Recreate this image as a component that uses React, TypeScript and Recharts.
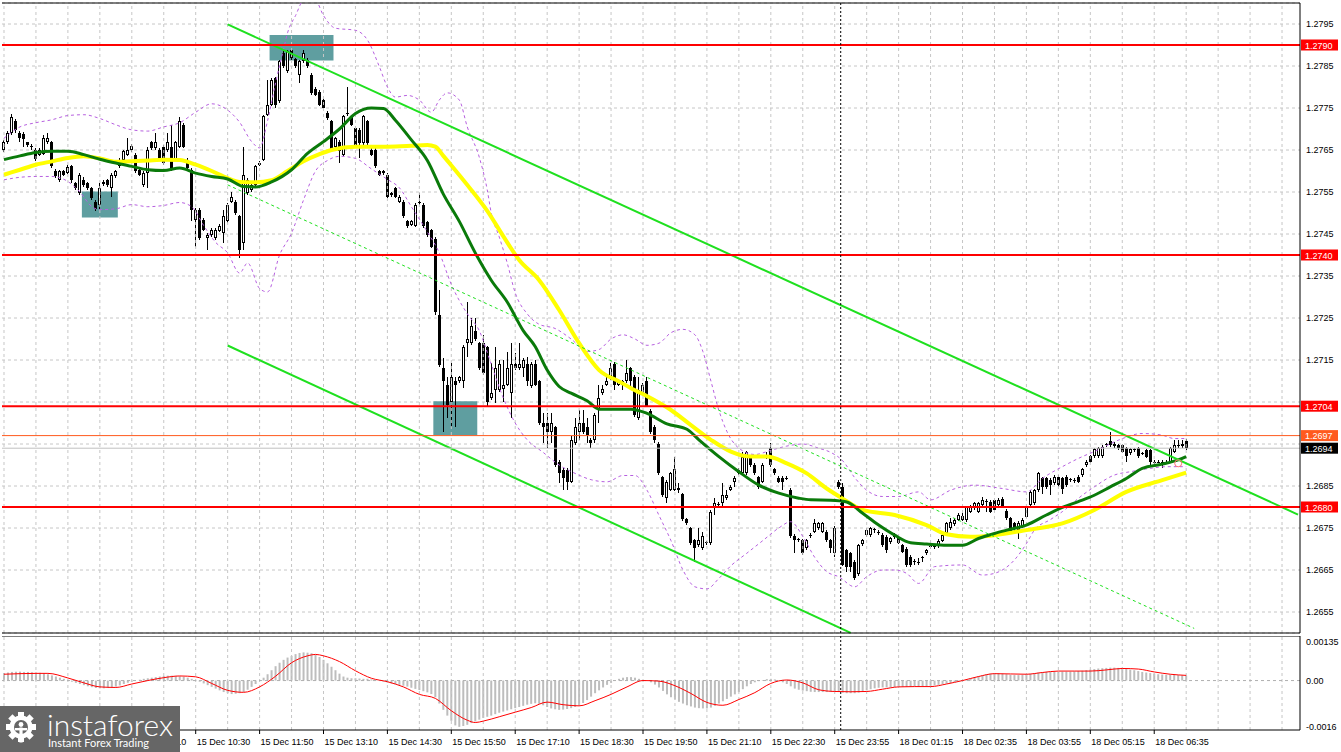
import React from 'react';
import {
  ComposedChart, Bar, Line, XAxis, YAxis, CartesianGrid,
  ReferenceLine, ReferenceArea, ReferenceDot,
} from 'recharts';

const W = 1341;
const FONT = '"Liberation Sans", Arial, sans-serif';

// candles and indicator curves are kept in pips above 1.2600
const BASE = 1.26;
// 5-minute slots across the plot, the right-most ones stay empty (chart shift)
const SLOTS = 325;

// [open, high, low, close]
const candles: number[][] = [
  [165, 167.5, 164.5, 167], [167, 169.5, 166.5, 169], [169, 173.5, 168.5, 172.8], [171.8, 172.5, 169, 169.8], [169, 169.5, 167, 167.8],
  [168.9, 169.2, 165.8, 167.6], [166.8, 167, 165.8, 166.2], [166, 166.5, 165, 165.8], [165, 165.5, 162.5, 162.8], [163.9, 165.5, 163.5, 165],
  [164, 168.5, 163.8, 167.8], [166.8, 169, 166.5, 167.8], [166.8, 167.2, 160.8, 161.1], [159.9, 160.5, 158.4, 158.7], [157.9, 160.3, 157.5, 159.9],
  [159.9, 160.3, 158.8, 159.1], [159.5, 161.5, 159.2, 161], [161.1, 161.4, 157.1, 157.9], [157.1, 157.5, 155.5, 155.9], [154.7, 159.5, 154.3, 159.1],
  [157.9, 158.5, 156.3, 156.7], [157.1, 157.4, 155.5, 155.9], [155.9, 156.2, 153.2, 153.5], [152.7, 153.2, 150.5, 150.9], [151.9, 157.1, 150.9, 155.9],
  [156.9, 157.8, 156.5, 157.4], [157.9, 158.2, 156.3, 156.7], [155.9, 159.5, 153.9, 159.1], [158.7, 160.3, 158.4, 159.9], [161.1, 163, 160.8, 162.7],
  [162.7, 165, 162.4, 164.7], [163.9, 167.8, 163.5, 165], [164.9, 166.4, 164.5, 166], [163.9, 164.3, 159.5, 159.9], [160.3, 160.6, 158.8, 159.1],
  [156.7, 159.9, 156.3, 159.5], [159.5, 165.8, 155.9, 165], [166.8, 167.2, 165, 165.4], [165.4, 169, 165, 166.8], [165, 165.4, 162.3, 162.7],
  [165.8, 166.2, 161.5, 161.9], [165, 169, 164.6, 167], [165.8, 171, 160, 160.3], [162.7, 167.2, 162.3, 166.8], [165.8, 172.8, 165.4, 171.8],
  [171, 171.4, 165.4, 165.8], [162.7, 163.1, 160.3, 160.7], [160.3, 160.7, 148, 150.8], [148.4, 151.2, 142, 150.8], [150.8, 151.2, 143.6, 144],
  [148.4, 148.8, 145.6, 146], [144, 145.2, 141.2, 144.8], [144.8, 146.4, 144.4, 146], [144, 146.4, 143.6, 146], [145.8, 147.4, 145.4, 147],
  [145.2, 150.8, 142.8, 149.2], [148, 152.3, 147.6, 151.9], [152.7, 155.1, 152.3, 153.9], [152.7, 153.1, 149.6, 150], [149.2, 149.6, 139.3, 141.2],
  [142.8, 165.8, 141.2, 159.1], [154.7, 158.3, 154.3, 157.9], [155.5, 157.1, 155.1, 156.7], [156.7, 161.5, 156.3, 161.1], [161.5, 162.4, 161.1, 162],
  [162.7, 173.4, 162.3, 173], [173.4, 181.7, 173, 175.8], [175.8, 182.1, 175.4, 181.7], [182.1, 182.5, 175, 175.8], [176.6, 186.5, 176.2, 186.1],
  [188.1, 188.5, 184.5, 184.9], [183.7, 188.9, 183.3, 188.5], [188.9, 189.3, 186.5, 186.9], [186.6, 187, 184.5, 184.9], [182.9, 186.5, 180.9, 186.1],
  [186.1, 188.9, 185.7, 188.1], [186.5, 186.9, 184.5, 184.9], [182.9, 183.3, 178.1, 178.5], [179.6, 180, 177.8, 178.2], [178.9, 179.3, 175.4, 175.8],
  [177, 177.4, 174.6, 175], [173.8, 174.2, 172.2, 172.6], [171.8, 172.2, 164.6, 165], [165.8, 168.2, 165.4, 167.8], [167, 167.4, 161.9, 164.7],
  [163.9, 173.4, 163.5, 173], [173.8, 180.1, 173.2, 173.6], [172.9, 173.2, 170.6, 171], [170.2, 170.6, 165.4, 165.8], [169.8, 170.2, 163.1, 166.6],
  [166.6, 173.4, 166.2, 173], [171.8, 172.2, 166.2, 166.6], [165, 165.4, 163.5, 163.9], [165, 165.4, 160.7, 161.1], [159.9, 160.3, 158.7, 159.1],
  [159.9, 160.3, 159.1, 159.5], [159.1, 159.5, 153.5, 153.9], [154.7, 155.1, 153.9, 154.3], [155.9, 156.3, 153.5, 153.9], [152.7, 154.3, 152.3, 153.9],
  [152.7, 153.1, 148.8, 149.2], [148, 148.4, 146.4, 146.8], [147.2, 148.4, 146.8, 148], [147, 152.3, 146.6, 151.9], [152.7, 154.7, 152, 152.5],
  [151.9, 152.3, 146.4, 146.8], [147.9, 148.2, 144.4, 144.7], [145.9, 146.3, 141.6, 142], [143.9, 144.3, 125.7, 126.5], [125.7, 131.7, 113.4, 113.8],
  [113, 115.4, 97.9, 109.9], [109.1, 111, 101.1, 104.3], [105.1, 114.2, 99.1, 111], [109.9, 111, 99.1, 109.1], [109.9, 111.3, 109.5, 110.9],
  [109.9, 118.6, 108.3, 118.2], [119, 128.9, 115.8, 119.9], [119, 124.9, 118.6, 123.1], [121.9, 124.9, 119.5, 119.9], [119, 119.4, 112.6, 113],
  [119, 121, 111.4, 111.8], [118, 118.4, 103.9, 105.1], [105.9, 114.2, 105.5, 107.1], [107.9, 118.2, 104.7, 113], [107.9, 115, 107.5, 114.1],
  [108, 115, 105.1, 109.1], [109.1, 117, 108.7, 113], [107.1, 119, 101.1, 114.1], [114.1, 116.6, 112.6, 113], [113, 119, 112.6, 114.1],
  [113, 115.4, 111, 115], [114.1, 115.8, 108.7, 109.9], [108.8, 114.5, 108.4, 114.1], [114.1, 115, 108.7, 109.1], [109.9, 110.3, 99.5, 99.9],
  [99.9, 102.3, 95.2, 99.1], [99.9, 102.3, 94, 97.9], [97.9, 102.3, 95.2, 99.9], [99, 99.4, 89.6, 90], [90.8, 91.2, 85.6, 88],
  [88.8, 89.2, 84.1, 86.8], [88.8, 89.2, 84.1, 86], [86, 96.8, 85.6, 96], [95.2, 101.1, 94.8, 99], [97.9, 103.1, 96, 99.9],
  [99.9, 103.1, 97.5, 97.9], [99, 101.1, 95.2, 97.2], [96, 96.4, 94, 95.2], [96, 102.3, 95.2, 101.9], [103.1, 109.1, 99.9, 105.9],
  [107.1, 109.1, 106.7, 108], [109.1, 111, 108.7, 109.9], [110.6, 114.2, 110.2, 113], [114.1, 114.5, 107.9, 109.1], [109.1, 110.3, 108.7, 109.9],
  [109.9, 110.3, 107.9, 109.1], [109.9, 115, 109.5, 111.8], [113, 113.4, 107.9, 110.1], [111, 111.4, 101.5, 101.9], [101.1, 111, 100.7, 107.9],
  [107.1, 109.5, 106.7, 109.1], [110.1, 111, 103.7, 104.1], [102.9, 103.3, 97.5, 97.9], [99.1, 99.5, 95.2, 96], [95, 95.4, 87.6, 88],
  [87.1, 87.5, 82.5, 82.9], [82.1, 86.4, 80.9, 86], [84.1, 88.4, 83.7, 88], [84.1, 91.8, 83.7, 89], [84.1, 85.6, 83.3, 84.5],
  [83, 83.4, 76.7, 77.1], [77.1, 77.5, 75.7, 76.1], [74.9, 75.3, 71, 71.4], [72.1, 72.5, 67, 70.2], [70.9, 74.9, 70.5, 72.1],
  [70.2, 74.1, 69.8, 73.1], [71.4, 72, 71, 71.6], [71.4, 79.3, 71, 78.9], [80.1, 82.1, 78.1, 80.9], [80.5, 81.1, 80.1, 80.7],
  [80.9, 85.6, 80.1, 82.9], [82.1, 84.1, 81.7, 82.9], [84.1, 85.2, 83.7, 84.8], [86, 87.4, 84.8, 87], [88, 89.2, 87.6, 88.8],
  [88, 93.2, 87.6, 91.8], [88, 93.4, 87.6, 93], [92, 92.4, 89.6, 90], [90, 90.4, 87.6, 88], [87.1, 87.5, 84.4, 84.8],
  [86, 90.4, 85.6, 90], [91.8, 93.2, 91.4, 92], [94, 95.2, 89.6, 90], [89, 89.4, 87.6, 88], [87, 87.4, 85.6, 86],
  [87, 87.4, 84.1, 86], [87, 87.4, 86.4, 86.8], [84.1, 84.5, 72.7, 73.1], [73.1, 73.5, 69, 72.1], [72.1, 72.7, 71.7, 72.3],
  [72.1, 72.5, 68.6, 69], [70.2, 72.5, 69.8, 72.1], [73.1, 73.7, 72.7, 73.3], [74.1, 77.1, 73.7, 76.1], [74.9, 76.5, 74.5, 76.1],
  [74.1, 76.5, 73.7, 76.1], [74.1, 74.5, 71.7, 72.1], [72.1, 72.5, 69, 70.2], [69.1, 75.5, 68.2, 75], [86, 86.4, 84.4, 84.8],
  [84.8, 85.6, 66, 66.2], [69.7, 70, 64.5, 65.8], [69, 69.4, 64.6, 65.8], [67, 67.4, 62.6, 63], [64, 71.3, 63.6, 70.9],
  [71.2, 72.5, 70.8, 72.1], [73.3, 74.9, 72.9, 74.5], [73.3, 75.3, 72.9, 74.9], [74.5, 75.1, 73.7, 74.7], [74.1, 74.5, 73.3, 73.7],
  [73.3, 73.7, 70.5, 70.9], [72.9, 73.3, 69, 69.7], [71.7, 72.9, 71.3, 72.5], [72.9, 73.7, 72.5, 73.1], [72.5, 72.9, 71.1, 71.5],
  [70.9, 71.3, 69, 69.4], [70.1, 70.5, 65.8, 66.2], [68.2, 68.6, 65.8, 66.2], [67, 67.6, 66.2, 67.2], [67, 67.8, 66.2, 66.8],
  [67.8, 68.4, 67, 68], [69, 70.1, 68.6, 69.7], [70.5, 71.2, 70.1, 70.7], [70.7, 71.2, 70, 70.5], [70.7, 72.4, 70.3, 72],
  [72, 73.7, 71.6, 73.3], [73.7, 76.5, 73.3, 76.1], [74.9, 77.3, 74.5, 76.5], [75.9, 77.4, 75.5, 77], [77, 78.5, 76.6, 78.1],
  [77, 78.5, 76.6, 77.8], [76.9, 80.3, 76.5, 79.9], [78.9, 80.5, 78.5, 80.1], [79.7, 81.3, 79.3, 80.9], [78.9, 81.3, 78.5, 80.9],
  [80.5, 82.5, 80.1, 81.7], [81.5, 82, 78.9, 81.3], [81.3, 81.7, 78.5, 78.9], [81.7, 82.1, 78.9, 79.3], [80.5, 82.1, 80.1, 81.7],
  [82, 82.4, 79.7, 80.1], [79.1, 79.5, 76.9, 77.3], [77.3, 77.7, 73.7, 74.1], [76.1, 76.5, 73.7, 74.9], [74.5, 76.7, 72.5, 76.3],
  [75.5, 77.4, 75.1, 77], [77.7, 80.3, 77.3, 79.9], [80.5, 84, 80.1, 83.6], [80.9, 84.4, 80.5, 84], [84, 88.4, 83.6, 88],
  [86.8, 87.2, 83.1, 84.8], [86.8, 87.2, 84.4, 84.8], [86.4, 86.8, 82.8, 85.2], [85.6, 87.6, 85.2, 87.2], [87.2, 87.6, 84.8, 85.2],
  [86.8, 87.2, 83.1, 84.4], [87.2, 87.6, 84.8, 85.2], [86.4, 87, 86, 86.6], [86.4, 87, 85.6, 86.2], [87.2, 87.6, 85.6, 86],
  [87.6, 89.4, 87.2, 89], [90, 91.2, 89.6, 90.8], [92.1, 92.5, 90.4, 90.8], [92.1, 94.1, 91.7, 93.7], [92.1, 94.4, 91.7, 94],
  [92.1, 94.8, 91.7, 94.4], [94.7, 95.3, 94.3, 94.9], [95.8, 97.9, 94.3, 94.7], [95, 95.4, 94.1, 94.5], [94.7, 95.1, 93.6, 94],
  [94.7, 95.1, 92.8, 93.2], [94, 94.4, 90.8, 92.1], [92.8, 94.1, 92.4, 93.7], [93.7, 94.1, 93.2, 93.5], [94, 94.4, 91.7, 92.1],
  [92.8, 93.2, 92.4, 92.6], [93.5, 93.9, 91.6, 92], [93.5, 93.9, 90, 90.8], [90.8, 91.2, 90, 90.4], [90.6, 91.2, 90.4, 90.8],
  [90.8, 91.2, 89.2, 90], [90.8, 91.2, 90.4, 90.6], [90.8, 94.4, 90.4, 94], [93.2, 95.9, 92.8, 94.7], [94.7, 95.9, 94.1, 94.5],
  [94.5, 95.9, 94.1, 95.1], [95.8, 96.2, 93.6, 94],
];

// moving averages and the dashed bands, read at [slot, pips]
const maFast = [
  [0, 162.7], [4, 163.6], [8, 164.4], [12, 164.7], [16, 164.7], [20, 163.9], [24, 162.8], [28, 161.9], [32, 161.1], [36, 160.3],
  [40, 160.1], [44, 160.7], [48, 159.5], [52, 158.7], [56, 158.1], [60, 156.3], [63, 156.2], [67, 157.4], [72, 160.3], [76, 164.2],
  [80, 167], [84, 170], [88, 173.7], [92, 175], [95, 174.9], [98, 172.1], [102, 167.4], [106, 162.5], [110, 154.5], [114, 148],
  [118, 140.5], [122, 134], [126, 128.8], [130, 122], [133, 118.2], [136, 112.6], [139, 108.7], [142, 107.1], [146, 105.3], [149, 103.3],
  [154, 103.3], [157, 103.3], [161, 102.3], [166, 99.8], [171, 98.5], [174, 96], [179, 92], [184, 88.4], [189, 85.2], [194, 83.3],
  [199, 82.1], [202, 81.7], [207, 81.6], [211, 81.2], [215, 78.5], [219, 75.7], [223, 73.3], [227, 71.5], [231, 71.2], [236, 70.9],
  [240, 70.9], [244, 72.5], [248, 73.7], [252, 74.7], [256, 75.7], [261, 78.1], [265, 79.9], [269, 81.3], [273, 82.8], [277, 84.8],
  [281, 86.8], [285, 89.2], [290, 90.2], [294, 91.2], [296, 92],
];
const maSlow = [
  [0, 159.1], [4, 160.3], [8, 161.5], [12, 162.3], [16, 163.1], [20, 163.5], [24, 163], [28, 162.2], [32, 162.3], [36, 162.5],
  [40, 162.7], [44, 162.6], [48, 161.5], [52, 160], [56, 158.3], [59, 157.4], [63, 157.3], [67, 157.8], [71, 160], [75, 162.3],
  [79, 164], [82, 165], [88, 165.8], [96, 165.8], [102, 166], [106, 166.2], [108, 165.8], [110, 163.6], [113, 160.2], [117, 155.5],
  [121, 150.5], [125, 144.5], [129, 138.8], [134, 134], [139, 126.9], [144, 119], [149, 112.6], [154, 109.9], [157, 108.3], [162, 105.9],
  [167, 103.1], [172, 99.5], [177, 96], [182, 93.2], [187, 92], [191, 92], [196, 90.4], [201, 88], [206, 84.4], [210, 82],
  [215, 79.3], [223, 78.1], [231, 75.7], [236, 73.5], [242, 72.9], [248, 73.3], [256, 74.5], [265, 76.1], [273, 79.3], [281, 83.6],
  [290, 86.4], [296, 88.2],
];
const bandUpper = [
  [0, 167.8], [4, 170.5], [8, 171.5], [12, 172.2], [16, 173.2], [20, 173.4], [24, 172.5], [28, 171], [32, 169.8], [36, 169.5],
  [40, 170.5], [44, 171.5], [48, 174], [52, 176], [56, 174.5], [59, 171.6], [62, 167], [64, 165.5], [66, 172], [68, 181],
  [70, 189], [71, 192.9], [73, 197], [75, 200.5], [78, 200.5], [80, 197], [83, 194], [88, 193.5], [91, 191.2], [94, 184.8],
  [96, 180], [98, 177.6], [101, 178], [104, 176.9], [107, 174], [109, 176.9], [111, 178.6], [114, 176.9], [116, 170.5], [119, 163.3],
  [121, 155.5], [122, 150], [124, 144.3], [126, 138.1], [128, 131], [131, 126], [134, 123.5], [138, 122.5], [142, 120], [146, 117],
  [149, 117.5], [152, 120], [155, 121], [158, 120], [161, 118.5], [164, 119], [167, 121.5], [170, 122.3], [173, 121], [175, 117],
  [177, 110], [179, 103], [181, 98], [184, 94], [188, 92.5], [192, 93.5], [196, 94.5], [200, 95], [204, 94], [207, 93],
  [210, 91], [213, 87], [216, 84], [220, 82.5], [224, 82.5], [229, 83.6], [232, 81.7], [237, 84], [243, 85.2], [250, 84.4],
  [256, 83.6], [260, 86.8], [265, 89.6], [270, 92], [273, 93.2], [279, 95.9], [285, 97.5], [290, 97.1], [293, 96.3], [296, 96.3],
];
const bandLower = [
  [0, 157.9], [4, 158.5], [8, 158.7], [12, 158.7], [16, 157.5], [19, 155], [22, 151.5], [24, 150.8], [28, 151], [32, 152],
  [36, 151.5], [40, 151.8], [44, 152.5], [47, 151.5], [50, 147], [53, 143], [56, 140.5], [59, 135.7], [61, 138.1], [64, 132],
  [66, 131.2], [69, 140], [72, 145.2], [75, 153.1], [78, 160], [81, 162.5], [84, 163.5], [88, 163], [92, 160.5], [96, 158],
  [99, 156], [102, 151.5], [106, 145.5], [109, 140.5], [112, 133], [116, 126], [119, 122], [122, 114], [125, 106], [128, 100],
  [131, 96], [135, 93], [139, 90], [143, 88], [147, 86.5], [151, 86], [155, 87.5], [158, 87.5], [161, 84], [164, 78],
  [167, 72], [170, 65], [173, 61], [176, 60.5], [179, 63], [182, 66], [186, 69], [190, 72], [194, 75], [197, 76.5],
  [200, 73], [203, 68], [206, 64.6], [209, 63.4], [213, 61], [216, 63.4], [220, 65], [223, 65], [226, 64.2], [229, 61.8],
  [233, 65.8], [240, 66.2], [245, 63.8], [248, 64.2], [253, 67.4], [256, 71.3], [258, 74.5], [262, 77], [265, 78.9], [270, 82.8],
  [273, 84.8], [278, 87.6], [282, 88.4], [287, 89.2], [291, 89.6], [296, 89.6],
];

// MACD main value per bar, in units of 0.00001
const macdMain = [
  26, 28, 30, 31, 31, 30, 30, 29, 28, 27, 25, 22, 18, 14, 10, 6,
  0, -4, -8, -12, -16, -20, -23, -26, -27, -27, -26, -24, -21, -17, -12,
  -8, -4, 0, 3, 6, 8, 10, 12, 14, 16, 17, 17, 16, 15, 13, 10, 6, 2,
  -4, -10, -16, -22, -28, -34, -40, -44, -47, -46, -44, -40, -32, -22, -12,
  0, 10, 22, 36, 50, 62, 72, 80, 86, 92, 96, 98, 97, 95, 90, 82, 72, 60, 48, 36,
  24, 14, 10, 8, 8, 7, 6, 6, 4, 2, 0,
  -4, -7, -10, -13, -15, -18, -21, -25, -29, -33, -37, -41, -47, -58, -80, -102, -122, -140, -156, -161,
  -158, -154, -148, -142, -136, -130, -126, -122, -117, -112, -108, -104, -100, -96, -92, -88, -84, -81, -79, -81,
  -86, -92, -97, -100, -102, -101, -99, -96, -92, -86, -78, -68, -56, -44, -34, -24, -15, -8, 0,
  6, 10, 12, 12, 10, 6, 2, 0, -6, -14, -24, -36, -48, -58, -66, -74, -80, -86,
  -90, -94, -96, -97, -97, -94, -88, -80, -72, -64, -56, -48, -40, -30, -20, -12, -6, -2, 2, 5,
  6, 4, 0, -6, -12, -20, -28, -32, -35, -37, -39, -40, -40, -40, -40, -40, -40, -39,
  -42, -44, -44, -44, -42, -38, -34, -30, -27, -25, -24, -24, -24, -23, -22, -22, -22, -22, -21, -21,
  -20, -19, -18, -17, -15, -13, -11, -9, -6, -3, 0, 4, 8, 12, 16, 19, 22, 24, 26, 25,
  24, 22, 20, 19, 19, 20, 22, 24, 26, 28, 29, 30, 30, 30, 30, 31, 31, 31, 32, 33,
  34, 36, 38, 40, 42, 43, 44, 45, 45, 44, 42, 40, 38, 36, 33, 30, 28, 26, 24, 22,
  21, 20, 20, 20, 19, 18, 17,
];
// MACD signal line, [slot, 0.00001]
const macdSignal = [
  [0, 22], [4, 24], [8, 25], [11, 25], [16, 9], [20, -8], [24, -22], [28, -24], [32, -12], [36, 0],
  [40, 10], [44, 16], [48, 13], [52, -10], [56, -34], [60, -41], [64, -22], [68, 15], [72, 62], [76, 86],
  [78, 91], [80, 86], [84, 66], [88, 34], [92, 8], [96, -4], [100, -22], [104, -48], [108, -62], [112, -105],
  [116, -138], [118, -146], [120, -141], [124, -126], [128, -110], [132, -94], [136, -75], [140, -84], [144, -88], [148, -70],
  [152, -48], [156, -22], [160, 0], [164, -2], [168, -18], [172, -45], [176, -76], [180, -86], [184, -66], [188, -42],
  [192, -10], [196, 2], [200, -8], [204, -32], [208, -38], [212, -39], [216, -38], [220, -30], [224, -22], [228, -21],
  [232, -21], [236, -12], [240, 0], [244, 14], [248, 24], [252, 23], [256, 22], [260, 28], [264, 33], [268, 33],
  [272, 33], [276, 37], [280, 42], [284, 40], [288, 30], [292, 22], [296, 18],
];

// time axis labels that show beside the logo
const timeLabels: [number, string][] = [
  [32, '15 Dec 09:10'], [48, '15 Dec 10:30'], [64, '15 Dec 11:50'],
  [80, '15 Dec 13:10'], [96, '15 Dec 14:30'], [112, '15 Dec 15:50'], [128, '15 Dec 17:10'], [144, '15 Dec 18:30'],
  [160, '15 Dec 19:50'], [176, '15 Dec 21:10'], [192, '15 Dec 22:30'], [208, '15 Dec 23:55'], [224, '18 Dec 01:15'],
  [240, '18 Dec 02:35'], [256, '18 Dec 03:55'], [272, '18 Dec 05:15'], [288, '18 Dec 06:35'],
];
const priceTicks = [1.2655, 1.2665, 1.2675, 1.2685, 1.2695, 1.2705, 1.2715, 1.2725, 1.2735, 1.2745, 1.2755, 1.2765, 1.2775, 1.2785, 1.2795];
const hiddenTicks = [1.2705, 1.2695];
const redLevels = [1.279, 1.274, 1.2704, 1.268];
const askLevel = 1.2697;
const bidLevel = 1.2694;
const macdTicks = [0.00135, 0, -0.0016];

// channel: [slot, pips] -> [slot, pips]
const channelUpper = [[56, 194.9], [324, 78.2]];
const channelLower = [[56, 118.45], [212, 50.05]];
const channelMid = [[56, 156.7], [298, 51.1]];
// highlighted zones: [slot from, slot to, pips top, pips bottom]
const zones = [[67, 82, 192.4, 186.3], [20, 28, 155.1, 148.9], [108, 118, 105.2, 97.1]];
const gridSlots = Array.from({ length: 41 }, (_, k) => k * 8);
const daySplit = 209;

const toPrice = (p: number) => +(BASE + p / 10000).toFixed(6);
const asMap = (pts: number[][]) => new Map(pts.map(([i, v]) => [i, v]));
const fastMap = asMap(maFast);
const slowMap = asMap(maSlow);
const upMap = asMap(bandUpper);
const loMap = asMap(bandLower);
const sigMap = asMap(macdSignal);
const pick = (m: Map<number, number>, i: number) => (m.has(i) ? toPrice(m.get(i) as number) : null);

const rows = Array.from({ length: SLOTS }, (_, i) => {
  const k = candles[i];
  return {
    i,
    range: k ? [toPrice(k[2]), toPrice(k[1])] : null,
    o: k ? toPrice(k[0]) : null,
    h: k ? toPrice(k[1]) : null,
    l: k ? toPrice(k[2]) : null,
    c: k ? toPrice(k[3]) : null,
    fast: pick(fastMap, i),
    slow: pick(slowMap, i),
    up: pick(upMap, i),
    lo: pick(loMap, i),
    hist: i < macdMain.length ? macdMain[i] / 1e5 : null,
    sig: sigMap.has(i) ? (sigMap.get(i) as number) / 1e5 : null,
  };
});

const CandleShape = (props: any) => {
  const { x, y, width, height, payload } = props;
  if (!payload || payload.o == null) return <g />;
  const { o, h, l, c } = payload;
  const cx = Math.floor(x + width / 2);
  const span = h - l;
  const toY = (v: number) => (span > 0 ? y + ((h - v) / span) * height : y);
  const top = Math.round(toY(Math.max(o, c)));
  const bot = Math.round(toY(Math.min(o, c)));
  const bull = c >= o;
  const bodyH = bot - top;
  return (
    <g shapeRendering="crispEdges">
      <line x1={cx + 0.5} x2={cx + 0.5} y1={y} y2={y + height} stroke="#000" />
      {bodyH < 2 ? (
        <line x1={cx - 1} x2={cx + 2} y1={top + 0.5} y2={top + 0.5} stroke="#000" />
      ) : bull ? (
        <rect x={cx - 0.5} y={top + 0.5} width={2} height={bodyH - 1} fill="#fff" stroke="#000" />
      ) : (
        <rect x={cx - 1} y={top} width={3} height={bodyH} fill="#000" />
      )}
    </g>
  );
};

const PriceTick = (p: any) => {
  const v = p.payload.value;
  if (hiddenTicks.some((t) => Math.abs(t - v) < 1e-7)) return <g />;
  return (
    <text x={p.x} y={p.y + 3} fontSize={9} fontFamily={FONT} fill="#000">
      {v.toFixed(4)}
    </text>
  );
};

const MacdTick = (p: any) => {
  const v = p.payload.value;
  const s = v === 0 ? '0.00' : v > 0 ? '0.00135' : '-0.0016';
  return (
    <text x={p.x} y={p.y + 3} fontSize={9} fontFamily={FONT} fill="#000">
      {s}
    </text>
  );
};

const labelOf = new Map(timeLabels);
const TimeTick = (p: any) => (
  <text x={p.x + 1} y={p.y + 8.5} fontSize={9} fontFamily={FONT} fill="#000">
    {labelOf.get(p.payload.value)}
  </text>
);

const priceTag = (bg: string, text: string) => (props: any) => {
  const vb = props.viewBox;
  const x0 = vb.x + vb.width + 1;
  return (
    <g>
      <rect x={x0} y={vb.y - 5.5} width={37} height={11} fill={bg} />
      <text x={x0 + 4} y={vb.y + 3.5} fontSize={9} fontFamily={FONT} fill="#fff">
        {text}
      </text>
    </g>
  );
};

const seg = (s: number[][]) => s.map(([i, p]) => ({ x: i, y: toPrice(p) }));

const GREEN = '#1fe01f';
const GRID = '#c6c6c6';

const Logo = () => (
  <svg width={180} height={46} style={{ position: 'absolute', left: 0, top: 706 }}>
    <rect width={180} height={46} fill="#666666" />
    <g transform="translate(21,21)" fill="#fff">
      {Array.from({ length: 8 }, (_, k) => (
        <rect key={k} x={-3} y={-15} width={6} height={6} transform={`rotate(${k * 45})`} />
      ))}
      <circle r={11.5} />
      <circle r={7} fill="#666666" />
      <circle cx={0} cy={-2.5} r={2.4} />
      <rect x={-1.6} y={0.5} width={3.2} height={15} />
      <rect x={-6} y={1} width={12} height={2.4} />
    </g>
    <text x={47} y={30} fontSize={30} fontFamily="Lato, 'Open Sans', sans-serif" fontWeight={300} fill="#fff" textLength={126} lengthAdjust="spacingAndGlyphs">
      instaforex
    </text>
    <text x={48} y={41} fontSize={11.5} fontFamily="Lato, 'Open Sans', sans-serif" fill="#fff" textLength={101} lengthAdjust="spacingAndGlyphs">
      Instant Forex Trading
    </text>
  </svg>
);

export default function App() {
  return (
    <div style={{ position: 'absolute', left: 0, top: 0, width: W, height: 752, background: '#fff', overflow: 'hidden' }}>
      <div style={{ position: 'absolute', left: 0, top: 0 }}>
        <ComposedChart width={W} height={635} data={rows} margin={{ top: 3, right: 0, bottom: 0, left: 2 }}>
          <CartesianGrid vertical={false} stroke={GRID} strokeDasharray="3 3" />
          {gridSlots.map((s) => (
            <ReferenceLine key={'g' + s} x={s} stroke={GRID} strokeDasharray="3 3" />
          ))}
          <XAxis dataKey="i" type="category" height={2} tick={false} tickLine={false} axisLine={{ stroke: '#000' }} />
          <YAxis
            orientation="right"
            width={41}
            domain={[1.265, 1.28]}
            allowDataOverflow
            ticks={priceTicks}
            interval={0}
            tickSize={4}
            tickMargin={2}
            tickLine={false}
            axisLine={{ stroke: '#000' }}
            tick={PriceTick}
          />
          <ReferenceLine y={1.28} stroke="#000" />
          {zones.map(([a, b, t, u], k) => (
            <ReferenceArea key={'z' + k} x1={a} x2={b} y1={toPrice(u)} y2={toPrice(t)} fill="#5f9ea0" fillOpacity={1} stroke="none" />
          ))}
          <Bar dataKey="range" shape={CandleShape} isAnimationActive={false} />
          <Line dataKey="up" stroke="#b760e0" strokeWidth={1} strokeDasharray="3 3" dot={false} activeDot={false} connectNulls type="monotone" isAnimationActive={false} />
          <Line dataKey="lo" stroke="#b760e0" strokeWidth={1} strokeDasharray="3 3" dot={false} activeDot={false} connectNulls type="monotone" isAnimationActive={false} />
          <Line dataKey="slow" stroke="#ffff00" strokeWidth={4} dot={false} activeDot={false} connectNulls type="monotone" isAnimationActive={false} />
          <Line dataKey="fast" stroke="#0a7a0a" strokeWidth={3} dot={false} activeDot={false} connectNulls type="monotone" isAnimationActive={false} />
          <ReferenceLine segment={seg(channelUpper)} stroke={GREEN} strokeWidth={2} />
          <ReferenceLine segment={seg(channelLower)} stroke={GREEN} strokeWidth={2} />
          <ReferenceLine segment={seg(channelMid)} stroke={GREEN} strokeWidth={1} strokeDasharray="3 3" />
          <ReferenceLine y={bidLevel} stroke="#c0c0c0" label={priceTag('#000', bidLevel.toFixed(4))} />
          <ReferenceLine y={askLevel} stroke="#ff5a1e" label={priceTag('#ff5a1e', askLevel.toFixed(4))} />
          {redLevels.map((v) => (
            <ReferenceLine key={'r' + v} y={v} stroke="#ff0000" strokeWidth={2} label={priceTag('#ff0000', v.toFixed(4))} />
          ))}
          <ReferenceDot x={294} y={toPrice(90.4)} r={3.5} fill="none" stroke="#ff7070" />
          <ReferenceLine x={daySplit} position="end" stroke="#000" strokeDasharray="2 2" />
        </ComposedChart>
      </div>
      <div style={{ position: 'absolute', left: 0, top: 636 }}>
        <ComposedChart width={W} height={116} data={rows} margin={{ top: 0, right: 0, bottom: 0, left: 2 }}>
          {gridSlots.map((s) => (
            <ReferenceLine key={'mg' + s} x={s} stroke={GRID} strokeDasharray="3 3" />
          ))}
          <XAxis
            dataKey="i"
            type="category"
            height={22}
            ticks={timeLabels.map((t) => t[0])}
            interval={0}
            tickSize={4}
            tickMargin={2}
            tickLine={{ stroke: '#000' }}
            axisLine={{ stroke: '#000' }}
            tick={TimeTick}
          />
          <YAxis
            orientation="right"
            width={41}
            domain={[-0.00172, 0.00155]}
            allowDataOverflow
            ticks={macdTicks}
            interval={0}
            tickSize={4}
            tickMargin={2}
            tickLine={false}
            axisLine={{ stroke: '#000' }}
            tick={MacdTick}
          />
          <ReferenceLine y={0.00155} stroke="#000" />
          <ReferenceLine y={0} stroke="#b0b0b0" strokeDasharray="3 3" />
          <Bar dataKey="hist" fill="#bdbdbd" barSize={2} isAnimationActive={false} />
          <Line dataKey="sig" stroke="#ff0000" strokeWidth={1} dot={false} activeDot={false} connectNulls type="monotone" isAnimationActive={false} />
          <ReferenceLine x={daySplit} position="end" stroke="#000" strokeDasharray="2 2" />
        </ComposedChart>
      </div>
      <Logo />
    </div>
  );
}
